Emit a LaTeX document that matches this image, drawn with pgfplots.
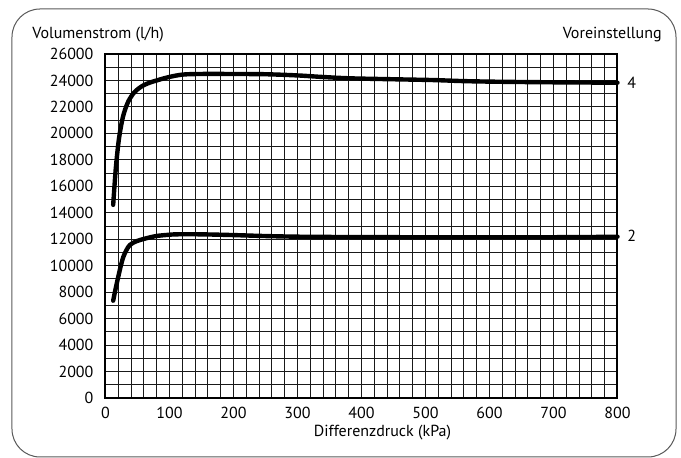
\documentclass[border=0pt]{standalone}
\usepackage{fontspec}
\setmainfont{PT Sans}
\usepackage{pgfplots}
\pgfplotsset{compat=1.18}
\begin{document}
\begin{tikzpicture}[font=\fontsize{8}{9.6}\selectfont]
\useasboundingbox (-52.75pt,-30pt) rectangle (287.75pt,199pt);
\draw[black!65, line width=0.5pt, rounded corners=14pt] (-46.75pt,-29.5pt) rectangle (285.25pt,194.5pt);
\begin{axis}[
  scale only axis, width=256pt, height=172pt,
  xmin=0, xmax=800, ymin=0, ymax=26000,
  xtick={0,100,...,800}, ytick={0,2000,...,26000},
  minor x tick num=4, minor y tick num=1,
  grid=both,
  major grid style={black!90, line width=0.45pt},
  minor grid style={black!90, line width=0.45pt},
  major tick length=0pt, minor tick length=0pt,
  axis line style={line width=1pt},
  tick label style={font=\fontsize{8}{9.6}\selectfont},
  /pgf/number format/assume math mode=true,
  /pgf/number format/1000 sep={},
  scaled y ticks=false,
  xticklabel style={yshift=-1pt},
  yticklabel style={xshift=-2.5pt},
  clip=false,
]
% Voreinstellung 4
\addplot[black, line width=2.2pt, smooth, tension=0.5, line cap=round] coordinates {
  (12,14600) (16,17300) (20,19200) (23,20200) (27,21200) (31,21850) (36,22450)
  (44,23050) (52,23400) (60,23650) (70,23850) (80,24000) (92,24170) (105,24320)
  (122,24450) (148,24490) (195,24490) (250,24470) (300,24380) (340,24260)
  (383,24160) (450,24090) (512,24030) (560,23950) (617,23900) (700,23860) (800,23830)
};
% Voreinstellung 2
\addplot[black, line width=2.2pt, smooth, tension=0.5, line cap=round] coordinates {
  (12,7355) (16,8300) (20,9170) (24,10000) (28,10680) (33,11200) (38,11560)
  (46,11800) (54,11940) (66,12100) (80,12245) (95,12320) (111,12370) (148,12370)
  (195,12320) (250,12240) (304,12190) (400,12160) (512,12150) (669,12150)
  (740,12160) (800,12190)
};
\node[anchor=west, inner sep=0pt, xshift=4.75pt] at (axis cs:800,23850) {4};
\node[anchor=west, inner sep=0pt, xshift=4.75pt] at (axis cs:800,12230) {2};
\end{axis}
\node[anchor=west, inner sep=0pt] at (-36.75pt,181.5pt) {Volumenstrom (l/h)};
\node[anchor=east, inner sep=0pt] at (278.25pt,181.5pt) {Voreinstellung};
\node[inner sep=0pt] at (138.5pt,-17.5pt) {Differenzdruck (kPa)};
\end{tikzpicture}
\end{document}
